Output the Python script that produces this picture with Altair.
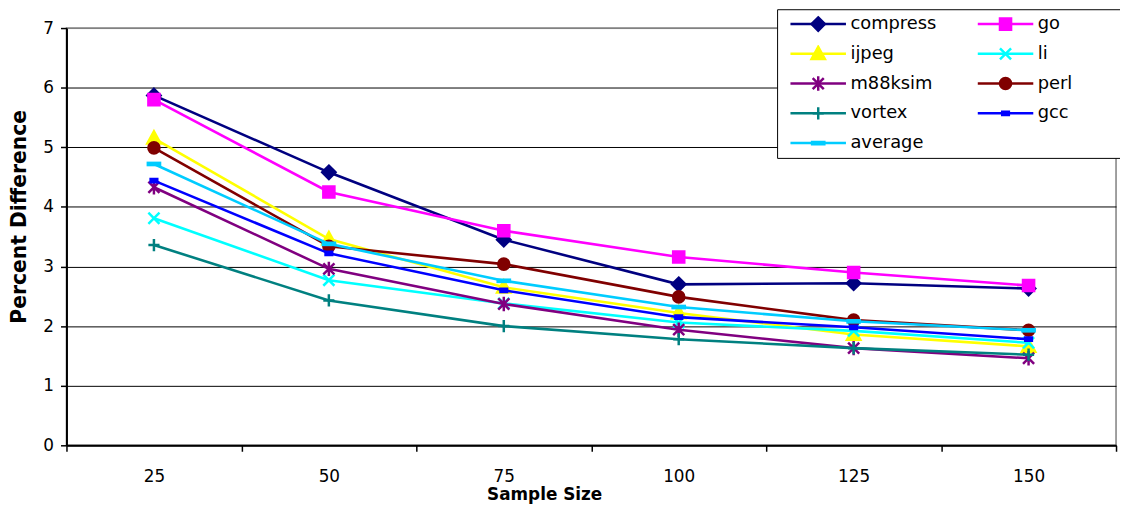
import altair as alt
import pandas as pd

sizes = [25, 50, 75, 100, 125, 150]
series = ["compress", "go", "ijpeg", "li", "m88ksim", "perl", "vortex", "gcc", "average"]
colors = ["#000080", "#FF00FF", "#FFFF00", "#00FFFF", "#800080", "#800000", "#008080", "#0000FF", "#00CCFF"]

compress = [5.87, 4.58, 3.45, 2.70, 2.72, 2.63]
go = [5.80, 4.25, 3.60, 3.16, 2.90, 2.68]
ijpeg = [5.15, 3.46, 2.65, 2.22, 1.86, 1.66]
li = [3.81, 2.77, 2.38, 2.06, 1.92, 1.72]
m88ksim = [4.33, 2.96, 2.37, 1.94, 1.63, 1.46]
perl = [4.99, 3.34, 3.04, 2.49, 2.10, 1.93]
vortex = [3.36, 2.43, 2.00, 1.78, 1.63, 1.52]
gcc = [4.44, 3.22, 2.60, 2.15, 1.98, 1.78]
average = [4.72, 3.38, 2.76, 2.32, 2.08, 1.93]

values = {"compress": compress, "go": go, "ijpeg": ijpeg, "li": li, "m88ksim": m88ksim,
          "perl": perl, "vortex": vortex, "gcc": gcc, "average": average}

# marker shapes (unit space scaled by sqrt(size)/2)
shapes = [
    "M0,-0.24L0.24,0L0,0.24L-0.24,0Z",                                   # diamond
    "M-0.2,-0.2L0.2,-0.2L0.2,0.2L-0.2,0.2Z",                              # square
    "M0,-0.25L0.24,0.19L-0.24,0.19Z",                                     # triangle
    "M-0.2,-0.2L0.2,0.2M-0.2,0.2L0.2,-0.2",                               # x
    "M-0.2,-0.2L0.2,0.2M-0.2,0.2L0.2,-0.2M0,-0.26L0,0.26",                # asterisk
    "M-0.2,0A0.2,0.2 0 1,0 0.2,0A0.2,0.2 0 1,0 -0.2,0Z",                  # circle
    "M-0.2,0L0.2,0M0,-0.22L0,0.22",                                       # plus
    "M-0.12,-0.06L0.12,-0.06L0.12,0.06L-0.12,0.06Z",                      # small dash
    "M-0.22,-0.04L0.22,-0.04L0.22,0.04L-0.22,0.04Z",                      # wide dash
]

ZW = "\u200b"  # marker-series keys differ from line-series keys so the two legends stay separate
marker_keys = [s + ZW for s in series]

rows = []
for s, k in zip(series, marker_keys):
    for n, v in zip(sizes, values[s]):
        rows.append({"n": n, "series": s, "sb": k, "value": v})
df = pd.DataFrame(rows)

SYM = 3136
FONT = "DejaVu Sans"
pad_expr = ("indexof(['go','li','perl','gcc'], datum.label) >= 0 ? datum.label + '"
            + " " * 14 + "\u200b' : datum.label")

common = dict(
    title=None, orient="none", legendX=717, legendY=-19, columns=2, direction="horizontal",
    rowPadding=12, clipHeight=18, padding=6,
    symbolSize=SYM, symbolStrokeWidth=2.5, symbolOffset=6,
    labelOffset=3, labelFont=FONT, labelFontSize=18,
)
legend_lines = alt.Legend(
    symbolType="stroke", labelColor="black", strokeColor="black", fillColor="white",
    labelExpr=pad_expr, labelLimit=300, columnPadding=34, zindex=1, **common,
)
# marker overlay legend: no labels, so its column gap includes the widest first-column label
legend_marks = alt.Legend(symbolOpacity=1, labelExpr="''", columnPadding=121, zindex=2, **common)

x_enc = alt.X(
    "n:O", sort=sizes,
    scale=alt.Scale(type="band", paddingInner=0, paddingOuter=0),
    axis=alt.Axis(
        title="Sample Size", titleFont=FONT, titleFontSize=17, titleFontWeight="bold",
        titleColor="black", titleX=482, titleY=55, titleBaseline="alphabetic",
        labelFont=FONT, labelFontSize=17, labelColor="black", labelAngle=0,
        labelBaseline="alphabetic", labelPadding=31,
        tickBand="extent", tickSize=6, tickColor="black", tickWidth=1.5,
        domainColor="black", domainWidth=2, grid=False,
    ),
)
y_enc = alt.Y(
    "value:Q",
    scale=alt.Scale(domain=[0, 7], nice=False, zero=True),
    axis=alt.Axis(
        values=[0, 1, 2, 3, 4, 5, 6, 7],
        title="Percent Difference", titleFont=FONT, titleFontSize=20.5, titleFontWeight="bold",
        titleColor="black", titleX=-41, titleY=190, titleBaseline="alphabetic", titleAngle=270,
        labelFont=FONT, labelFontSize=17, labelColor="black", labelPadding=7,
        tickSize=6, tickColor="black", tickWidth=1.5,
        domainColor="black", domainWidth=2,
        grid=True, gridWidth=1,
        gridColor={"condition": {"test": "datum.value === 7", "value": "#808080"}, "value": "black"},
    ),
)

color_enc = alt.Color("series:N", scale=alt.Scale(domain=series, range=colors), legend=legend_lines)
shape_enc = alt.Shape("sb:N", scale=alt.Scale(domain=marker_keys, range=shapes), legend=legend_marks)
fill_enc = alt.Fill("sb:N", scale=alt.Scale(domain=marker_keys, range=colors), legend=legend_marks)
stroke_enc = alt.Stroke("sb:N", scale=alt.Scale(domain=marker_keys, range=colors), legend=legend_marks)

layers = []
for s in series:
    base = alt.Chart(df).transform_filter(alt.datum.series == s)
    layers.append(base.mark_line(strokeWidth=2.6).encode(x=x_enc, y=y_enc, color=color_enc))
    layers.append(base.mark_point(size=SYM, filled=True, strokeWidth=2.5, opacity=1).encode(
        x=x_enc, y=y_enc, shape=shape_enc, fill=fill_enc, stroke=stroke_enc))

chart = alt.layer(*layers).properties(
    width=1059, height=421,
    autosize=alt.AutoSizeParams(type="none"),
    padding={"left": 59, "top": 18, "right": 4, "bottom": 60},
    background="white",
).configure_view(stroke="#808080", strokeWidth=1.5)

chart.save("out.html", embed_options={"renderer": "svg", "actions": False})
